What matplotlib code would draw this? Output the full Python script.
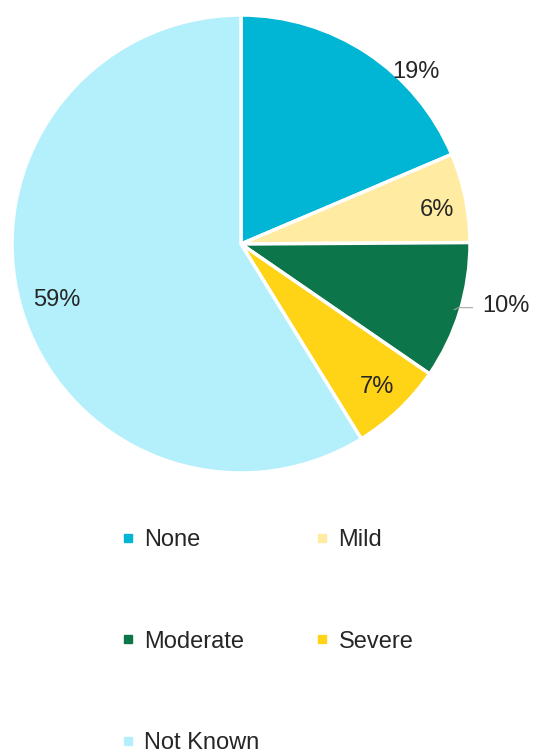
import numpy as np
import matplotlib
matplotlib.use("Agg")
from matplotlib import pyplot as plt
from matplotlib.lines import Line2D

# Severity shares (percent)
categories = ['None', 'Mild', 'Moderate', 'Severe', 'Not Known']
shares = [18.6, 6.3, 9.7, 6.6, 58.8]
colors = ['#00B6D4', '#FFEBA1', '#0C7549', '#FFD316', '#B4F0FB']

plt.rcParams['font.family'] = ['Liberation Sans', 'DejaVu Sans']

W, H = 534, 751
fig = plt.figure(figsize=(W / 100, H / 100), dpi=100)
ax = fig.add_axes([0, 0, 1, 1])

cx, cy, R = 241, H - 244, 229
wedges, _ = ax.pie(shares, colors=colors, startangle=90, counterclock=False,
                   radius=R, center=(cx, cy), frame=True,
                   wedgeprops=dict(edgecolor='white', linewidth=2.5))
ax.set_xlim(0, W)
ax.set_ylim(0, H)
ax.set_aspect('equal')
ax.axis('off')

# label distance (fraction of radius) and angle nudge (deg) per slice
label_r = [1.07, 0.87, 1.19, 0.86, 0.84]
label_dang = [-12, -2, 4, 0, 1]
for w, val, lr, da in zip(wedges, shares, label_r, label_dang):
    ang = np.deg2rad((w.theta1 + w.theta2) / 2 + da)
    x = cx + R * lr * np.cos(ang)
    y = cy + R * lr * np.sin(ang)
    if lr > 1.1:
        # short leader line from the slice edge towards the label
        mid = np.deg2rad((w.theta1 + w.theta2) / 2)
        ex, ey = cx + R * 0.975 * np.cos(mid), cy + R * 0.975 * np.sin(mid)
        ax.plot([ex, ex + 4, ex + 18], [ey, ey + 2, ey + 2], color='#A6A6A6', lw=0.8)
    ax.text(x, y, '%.0f%%' % round(val), ha='center', va='center',
            fontsize=17, color='#262626')

handles = [Line2D([], [], marker='s', linestyle='none', markersize=6,
                  markerfacecolor=c, markeredgecolor=c) for c in colors]
order = [0, 2, 4, 1, 3]
fig.legend([handles[i] for i in order], [categories[i] for i in order],
           ncol=2, loc='upper left', bbox_to_anchor=(100 / W, 1 - 508 / H),
           frameon=False, fontsize=17, labelspacing=3.36, columnspacing=2.36,
           handlelength=0.6, handletextpad=0.38, labelcolor='#262626')

fig.savefig('out.png', dpi=100)
